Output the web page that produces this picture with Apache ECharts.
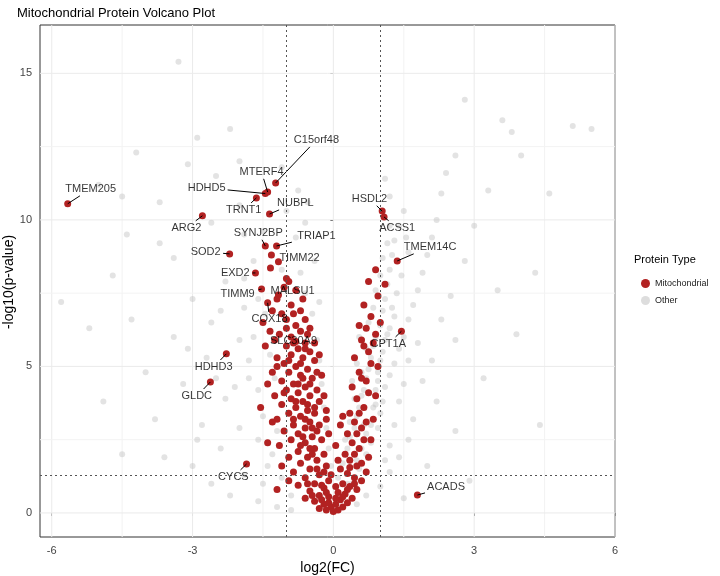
<!DOCTYPE html>
<html><head><meta charset="utf-8">
<script src="https://cdn.jsdelivr.net/npm/echarts@6/dist/echarts.min.js"></script>
<style>html,body{margin:0;background:#fff}#c{width:720px;height:576px}</style>
</head><body><div id="c"></div>
<script>
// Labeled mitochondrial proteins
const labelNames = ["TMEM205","HDHD5","MTERF4","C15orf48","TRNT1","NUBPL","ARG2","HSDL2","ACSS1","TMEM14C","SYNJ2BP","TRIAP1","SOD2","TIMM22","EXD2","TIMM9","MALSU1","COX18","SLC30A9","CPT1A","HDHD3","GLDC","CYCS","ACADS"];
const labelPoints = [[-5.66,10.55],[-1.45,10.9],[-1.4,10.95],[-1.23,11.26],[-1.64,10.75],[-1.36,10.2],[-2.79,10.14],[1.04,10.3],[1.08,10.1],[1.36,8.6],[-1.45,9.11],[-1.21,9.11],[-2.21,8.84],[-1.17,8.57],[-1.66,8.19],[-1.53,7.64],[-1.17,7.44],[-1.4,7.17],[-0.8,5.85],[1.45,6.2],[-2.28,5.43],[-2.62,4.47],[-1.85,1.67],[1.79,0.61]];
const labelText = [[-5.17,11.06],[-2.70,11.09],[-1.53,11.64],[-0.36,12.73],[-1.91,10.34],[-0.81,10.58],[-3.13,9.73],[0.77,10.72],[1.36,9.73],[2.06,9.08],[-1.60,9.56],[-0.36,9.45],[-2.72,8.91],[-0.72,8.70],[-2.09,8.19],[-2.04,7.47],[-0.87,7.58],[-1.36,6.62],[-0.85,5.87],[1.17,5.77],[-2.55,4.98],[-2.91,3.99],[-2.13,1.23],[2.40,0.89]];
// Other mitochondrial proteins
const mito = [
[-1.32,8.8],[-1.34,8.36],[-1.0,8.0],[-0.95,7.9],[-1.05,7.7],[-1.2,7.3],[-0.9,7.1],[-1.3,6.9],[-1.1,6.8],[-0.7,6.9],[-0.6,6.6],[-1.5,6.5],[-0.8,6.4],[-1.0,6.3],[-0.7,6.2],[-0.55,6.1],[-1.15,6.1],[-0.9,6.0],[-1.25,5.9],[-0.6,5.8],[-1.0,5.7],[-1.45,5.7],[-0.75,5.6],[-0.5,5.5],[-0.9,5.4],[-1.2,5.3],[-0.65,5.3],[-0.4,5.2],[-1.05,5.1],[-0.8,5.0],[-0.55,4.9],[-1.3,4.8],[-0.95,4.8],[-0.7,4.7],[-0.45,4.6],[-1.1,4.5],[-0.85,4.4],[-0.6,4.3],[-0.35,4.2],[-1.0,4.2],[-0.75,4.1],[-1.25,4.0],[-0.5,4.0],[-0.9,3.9],[-0.65,3.8],[-0.3,3.8],[-1.1,3.7],[-0.8,3.6],[-0.55,3.5],[-0.4,3.4],[-0.95,3.4],[-0.7,3.3],[-1.2,3.2],[-0.5,3.1],[-0.85,3.0],[-0.3,3.0],[-0.6,2.9],[-1.05,2.8],[-0.75,2.7],[-0.45,2.6],[-0.25,2.5],[-0.9,2.5],[-0.6,2.4],[-1.15,2.3],[-0.4,2.2],[-0.75,2.1],[-0.2,2.0],[-0.55,1.9],[-0.95,1.9],[-0.35,1.8],[-0.7,1.7],[-0.15,1.6],[-0.5,1.5],[-0.85,1.4],[-0.3,1.3],[-0.6,1.2],[-0.1,1.1],[-0.4,1.0],[-0.75,0.95],[-0.2,0.85],[-0.5,0.75],[-0.3,0.6],[-0.1,0.55],[-0.6,0.5],[-0.4,0.4],[-0.2,0.3],[-0.05,0.2],[-0.3,0.15],[-0.15,0.1],[0.0,0.05],[0.1,0.1],[0.2,0.2],[0.05,0.3],[0.3,0.35],[0.15,0.45],[0.4,0.5],[0.25,0.65],[0.1,0.7],[0.5,0.8],[0.35,0.9],[0.2,1.0],[0.6,1.1],[0.45,1.2],[0.3,1.35],[0.7,1.4],[0.15,1.5],[0.5,1.6],[0.35,1.8],[0.75,1.9],[0.25,2.0],[0.55,2.2],[0.4,2.4],[0.8,2.5],[0.3,2.7],[0.6,2.9],[0.45,3.1],[0.85,3.2],[0.35,3.4],[0.65,3.6],[0.5,3.9],[0.9,4.0],[0.4,4.3],[0.7,4.5],[0.55,4.8],[0.95,5.0],[0.45,5.3],[0.75,5.5],[0.6,5.9],[0.9,6.1],[0.55,6.4],[0.8,6.7],[0.65,7.1],[0.95,7.4],[0.75,7.9],[0.9,8.3],[-0.2,1.4],[-0.45,2.0],[-0.65,2.6],[-0.85,3.2],[-0.35,2.8],[-0.55,3.7],[-0.75,4.4],[-0.95,5.2],[-0.4,3.6],[-0.65,4.6],[-0.85,5.8],[-0.5,4.4],[-0.7,5.1],[-0.35,4.8],[-0.6,5.6],[-1.35,6.2],[-1.0,6.6],[-1.2,5.0],[-1.4,4.4],[-1.55,3.6],[-1.3,3.1],[-1.4,2.4],[-1.1,1.6],[-0.95,1.1],[-1.2,0.8],[-0.25,0.95],[-0.15,0.7],[0.05,0.9],[-0.05,1.3],[0.1,1.8],[0.05,2.3],[-0.1,2.7],[0.2,3.3],[0.15,3.0],[-0.15,3.2],
[-0.8,7.6],[-0.65,7.3],[-0.85,6.8],[-0.5,6.3],[-0.4,5.8],[-0.3,5.4],[-0.25,4.7],[-0.2,4.0],[-0.15,3.5],[-1.05,4.1],[-0.8,3.8],[-0.6,3.2],[-0.45,2.9],[-0.7,2.3],[-0.5,2.2],[-0.35,1.5],[-0.55,1.0],[-0.45,0.6],[-0.25,0.45],[-0.1,0.35],[0.05,0.5],[0.2,0.55],[0.3,0.8],[0.45,1.0],[0.35,1.55],[0.6,1.7],[0.45,2.0],[0.65,2.5],[0.5,2.7],[0.7,3.1],[0.55,3.4],[0.75,4.1],[0.6,4.6],[0.8,5.1],[0.65,5.7],[0.85,5.8],[1.0,6.5],[1.1,7.8],[0.7,6.3]
];
// Other proteins
const other = [
[-3.3,15.4],[-2.2,13.1],[-4.2,12.3],[-3.1,11.9],[-5.0,11.2],[-4.5,10.8],[-4.4,9.5],[-3.7,9.2],[-4.7,8.1],[-5.8,7.2],[-3.4,8.7],[-3.0,7.3],[-2.5,11.5],[-2.0,12.0],[-2.6,9.9],[-2.0,10.5],[-1.9,9.5],[-2.3,7.9],[-1.9,7.0],[-2.6,6.5],[-3.4,6.0],[-2.0,5.9],[-2.7,5.3],[-4.0,4.8],[-3.2,4.4],[-1.8,4.6],[-2.3,3.9],[-3.8,3.2],[-2.8,3.0],[-2.0,2.9],[-1.6,2.5],[-2.4,2.2],[-3.0,1.6],[-1.9,1.3],[-2.6,1.0],[-1.5,1.0],[-4.5,2.0],[-5.2,6.3],[-2.2,0.6],[-1.6,0.4],[-1.2,0.2],[-0.9,0.1],
[-1.7,6.0],[-1.8,5.2],[-1.6,4.2],[-1.5,3.3],[-1.3,2.0],[-1.1,1.2],[-0.9,0.6],[-1.6,7.3],[-1.7,8.6],[-1.5,9.6],[-1.0,10.3],[-0.8,9.4],[-1.1,8.3],[-0.7,8.2],[-0.6,7.5],[-0.45,6.8],[-0.35,5.9],[-0.3,5.2],[-0.25,4.4],[-0.2,3.6],[-0.15,2.9],[-0.1,2.2],[-0.05,1.6],
[0.1,1.2],[0.2,1.7],[0.3,2.2],[0.35,2.6],[0.45,2.9],[0.5,3.3],[0.55,3.6],[0.6,4.0],[0.65,4.2],[0.7,4.6],[0.75,4.9],[0.8,5.3],[0.85,5.7],[0.9,6.0],[1.0,6.4],[1.05,6.9],[1.1,7.3],[1.15,7.8],[1.2,8.3],[1.25,8.8],[1.3,9.3],[1.4,9.8],[1.5,10.3],[1.2,10.8],[1.1,11.4],
[0.4,1.0],[0.55,1.5],[0.7,2.0],[0.8,2.4],[0.95,2.9],[1.0,3.4],[1.05,3.8],[1.1,4.3],[1.2,4.7],[1.3,5.1],[1.4,5.6],[1.5,6.0],[1.6,6.6],[1.7,7.1],[1.8,7.6],[1.9,8.2],[2.0,8.8],[2.1,9.4],[2.2,10.0],[2.3,10.9],[2.4,11.6],[2.6,12.2],[3.6,13.4],[3.8,13.0],[4.0,12.2],[5.1,13.2],[5.5,13.1],[4.6,10.9],[3.3,11.0],[3.0,9.8],[2.8,8.6],[2.5,7.4],[2.3,6.6],[2.6,5.9],[2.1,5.2],[1.9,4.5],[2.2,3.8],[1.7,3.2],[1.6,2.5],[1.4,1.9],[1.2,1.4],[1.0,0.9],[0.7,0.6],[0.5,0.3],[2.0,1.6],[2.6,2.8],[3.2,4.6],[3.9,6.1],[4.4,3.0],[2.9,1.1],[1.5,0.5],[4.3,8.2],[3.5,7.6],[2.8,14.1],
[0.6,4.8],[0.7,5.6],[0.75,6.5],[0.85,7.0],[0.9,7.6],[1.0,8.1],[1.05,8.7],[1.15,9.2],[1.2,9.8],[0.45,3.9],[0.4,4.5],[0.5,5.1],[0.55,6.0],[0.35,3.1],[0.25,2.5],[0.65,3.0],[0.9,3.7],[0.95,4.5],[1.0,5.2],[1.1,5.9],[1.2,6.3],[1.25,7.0],[1.35,7.5],[1.45,8.1],[1.6,8.9],[1.55,9.4],
[-0.6,9.9],[-0.75,11.0],[-1.1,11.8],[-0.3,7.2],[-0.4,8.6],[-0.55,10.6],[-2.9,12.8],[-3.7,10.6],[-4.9,3.8],[-4.3,6.6],[-3.6,1.9],[-2.9,2.5],[-2.1,4.3],[-2.5,4.6],[-3.1,5.6],[-2.4,6.9],[-1.9,8.0],[-1.4,1.6],[-1.2,2.8],[-1.1,3.7],[-1.25,4.6],[-1.35,5.4],[-1.45,6.8],
[0.8,3.0],[0.85,3.6],[0.9,4.2],[0.95,4.8],[1.05,5.5],[1.15,6.1],[1.3,6.7],[0.7,2.7],[0.6,2.2],[0.5,1.8],[0.3,1.0],[0.2,0.6],[1.3,3.0],[1.4,3.8],[1.5,4.4],[1.6,5.2],[1.8,5.8],[1.2,2.3],[1.1,1.8]
];
const RED = '#B22222';
const chart = echarts.init(document.getElementById('c'));
function labelW(i){ return labelNames[i].length*3.6+3; }
chart.setOption({
  animation:false,
  title:{text:'Mitochondrial Protein Volcano Plot',left:12,top:2,textStyle:{fontFamily:'Liberation Sans, Arial',fontSize:13,fontWeight:'normal',color:'#000'}},
  grid:{left:40,right:105,top:25,bottom:39,containLabel:false,outerBoundsMode:'none',show:true,borderColor:'#333',borderWidth:1,backgroundColor:'#fff'},
  legend:{orient:'vertical',left:636,top:274,itemWidth:9,itemHeight:9,itemGap:8,
    textStyle:{fontSize:9,color:'#222',fontFamily:'Liberation Sans, Arial'},
    data:[{name:'Mitochondrial',icon:'circle'},{name:'Other',icon:'circle',itemStyle:{color:'#ddd'}}]},
  graphic:[{type:'text',left:634,top:254,style:{text:'Protein Type',fontSize:11,fill:'#000',fontFamily:'Liberation Sans, Arial'}},
    {type:'text',x:2,y:282,rotation:Math.PI/2,style:{text:'-log10(p-value)',fontSize:14,fill:'#000',fontFamily:'Liberation Sans, Arial',align:'center',verticalAlign:'top'}}],
  xAxis:{type:'value',min:-6.25,max:6,name:'log2(FC)',nameLocation:'middle',nameGap:24,
    nameTextStyle:{fontSize:14,color:'#000',fontFamily:'Liberation Sans, Arial'},
    axisLine:{show:false},
    axisLabel:{color:'#444',fontSize:11,customValues:[-6,-3,0,3,6]},
    axisTick:{show:true,customValues:[-6,-3,0,3,6],length:3,lineStyle:{color:'#333'}},
    splitLine:{show:false}
  },
  yAxis:{type:'value',min:-0.82,max:16.65,
    axisLine:{show:false},axisTick:{show:true,customValues:[0,5,10,15],length:3,lineStyle:{color:'#333'}},
    axisLabel:{color:'#444',fontSize:11,customValues:[0,5,10,15]},
    splitLine:{show:false}
  },
  series:[
    {name:'Other',type:'scatter',data:other,symbolSize:6,itemStyle:{color:'rgba(185,185,185,0.4)',opacity:1},z:2,
     markLine:{silent:true,symbol:'none',label:{show:false},lineStyle:{color:'#555',type:[2,3],width:1},
       data:[{xAxis:-1},{xAxis:1},{yAxis:1.3}]}},
    {name:'grid',type:'custom',silent:true,z:1,data:[0],renderItem:(p,api)=>{
       const ch=[];
       [-6,-4.5,-3,-1.5,0,1.5,3,4.5,6].forEach((v,i)=>{const a=api.coord([v,-0.82]),b=api.coord([v,16.65]);
         ch.push({type:'line',shape:{x1:a[0],y1:a[1],x2:b[0],y2:b[1]},style:{stroke:i%2?'#f3f3f3':'#ebebeb',lineWidth:1}});});
       [0,2.5,5,7.5,10,12.5,15].forEach((v,i)=>{const a=api.coord([-6.25,v]),b=api.coord([6,v]);
         ch.push({type:'line',shape:{x1:a[0],y1:a[1],x2:b[0],y2:b[1]},style:{stroke:i%2?'#f3f3f3':'#ebebeb',lineWidth:1}});});
       return {type:'group',children:ch};}},
    {name:'Mitochondrial',type:'scatter',data:mito.concat(labelPoints),symbolSize:7,itemStyle:{color:RED,opacity:1},z:3},
    {name:'leaders',type:'custom',silent:true,z:4,data:labelPoints.map((p,i)=>i),renderItem:(p,api)=>{
       const i=api.value(0);const a=api.coord(labelPoints[i]),b=api.coord(labelText[i]);
       const dx=a[0]-b[0],dy=a[1]-b[1];const w=labelW(i),h=7;
       let t=Math.min(dx?w/Math.abs(dx):1e9,dy?h/Math.abs(dy):1e9);
       if(t>=0.9) return null;
       const e=[b[0]+dx*t,b[1]+dy*t];
       return {type:'line',shape:{x1:a[0],y1:a[1],x2:e[0],y2:e[1]},style:{stroke:'#000',lineWidth:1}};}},
    {name:'labels',type:'scatter',silent:true,z:5,symbolSize:0,data:labelText.map((p,i)=>({value:p,name:labelNames[i]})),
     label:{show:true,position:'inside',formatter:p=>p.name,color:'#000',fontSize:11,fontFamily:'Liberation Sans, Arial'}}
  ]
});
</script></body></html>
